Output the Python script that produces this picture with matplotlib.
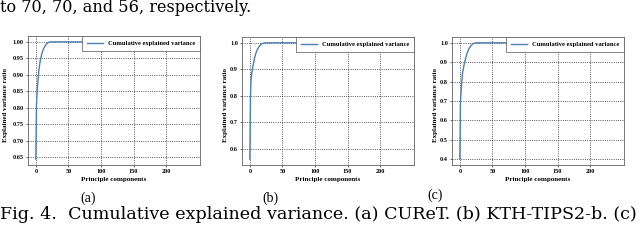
import numpy as np
import matplotlib
matplotlib.use('Agg')
import matplotlib.pyplot as plt

# data (component index, cumulative explained variance)
x_a = [0, 1, 2, 3, 4, 5, 7, 9, 11, 14, 17, 20, 24, 240]
y_a = [0.645, 0.81, 0.85, 0.875, 0.90, 0.92, 0.945, 0.962, 0.975, 0.987, 0.995, 0.999, 1.0, 1.0]

x_b = [0, 1, 2, 3, 4, 5, 7, 9, 11, 14, 17, 20, 24, 240]
y_b = [0.56, 0.80, 0.865, 0.885, 0.90, 0.915, 0.94, 0.958, 0.972, 0.985, 0.994, 0.998, 1.0, 1.0]

x_c = [0, 1, 2, 3, 4, 5, 7, 9, 11, 14, 17, 20, 23, 26, 240]
y_c = [0.40, 0.70, 0.75, 0.80, 0.84, 0.86, 0.895, 0.92, 0.945, 0.97, 0.985, 0.995, 0.999, 1.0, 1.0]

yticks_a = [0.65, 0.70, 0.75, 0.80, 0.85, 0.90, 0.95, 1.00]
yticks_b = [0.6, 0.7, 0.8, 0.9, 1.0]
yticks_c = [0.4, 0.5, 0.6, 0.7, 0.8, 0.9, 1.0]
xticks = [0, 50, 100, 150, 200]
panel_labels = ['(a)', '(b)', '(c)']

W, H = 640, 241
fig = plt.figure(figsize=(W / 100, H / 100), dpi=100)
fig.set_facecolor('white')

serif = 'Liberation Serif'
boxes = [(28, 36, 200, 165), (242, 37, 414, 165), (452, 37, 624, 165)]
data = [(x_a, y_a, yticks_a, '%.2f'), (x_b, y_b, yticks_b, '%.1f'), (x_c, y_c, yticks_c, '%.1f')]
ylab_x = [6, 226, 435]
lab_pos = [(88, 198), (270, 198), (435, 195)]

for (l, t, r, b), (xs, ys, yt, fmt), yl, (lx, ly), pl in zip(boxes, data, ylab_x, lab_pos, panel_labels):
    ax = fig.add_axes([l / W, 1 - b / H, (r - l) / W, (b - t) / H])
    ax.plot(xs, ys, color='#4a80b2', lw=1.0, label='Cumulative explained variance')
    ax.set_xticks(xticks)
    ax.set_yticks(yt)
    ax.set_yticklabels([fmt % v for v in yt])
    ax.grid(True, color='#222222', linestyle=':', linewidth=0.6)
    ax.tick_params(labelsize=4.5, length=1.5, width=0.4, pad=1.5)
    for lab in ax.get_xticklabels() + ax.get_yticklabels():
        lab.set_fontfamily(serif)
        lab.set_fontweight('bold')
    for s in ax.spines.values():
        s.set_linewidth(0.5)
        s.set_color('#444444')
    ax.set_xlabel('Principle components', fontsize=5, fontfamily=serif, fontweight='bold', labelpad=2)
    fig.text(yl / W, 1 - ((t + b) / 2 + 4) / H, 'Explained variance ratio', rotation=90,
             ha='center', va='center', fontsize=5, fontfamily=serif, fontweight='bold')
    leg = ax.legend(loc='upper right', prop={'family': serif, 'weight': 'bold', 'size': 4.7},
                    fancybox=False, borderaxespad=0.0, handlelength=2.5, borderpad=0.7,
                    framealpha=1)
    leg.get_frame().set_linewidth(0.5)
    leg.get_frame().set_edgecolor('#555555')
    fig.text(lx / W, 1 - ly / H, pl, ha='center', va='center', fontsize=10, fontfamily=serif)

fig.text(0, 1 - 12 / H, 'to 70, 70, and 56, respectively.', ha='left', va='baseline',
         fontsize=11.6, fontfamily='DejaVu Serif')
fig.text(0, 1 - 219 / H, 'Fig. 4.  Cumulative explained variance. (a) CUReT. (b) KTH-TIPS2-b. (c)',
         ha='left', va='baseline', fontsize=12.6, fontfamily='DejaVu Serif')

fig.savefig('out.png', dpi=100)
